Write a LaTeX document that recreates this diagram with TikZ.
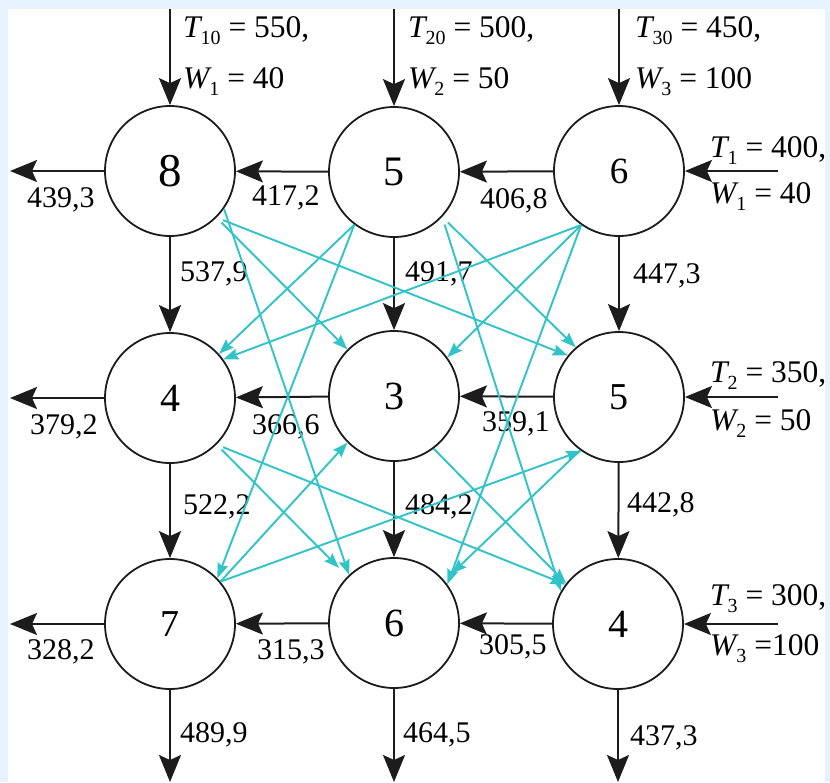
\documentclass[tikz,border=0pt]{standalone}
\usepackage{fontspec}
\setmainfont{Liberation Serif}
\usetikzlibrary{arrows.meta}
\definecolor{bgblue}{RGB}{230,243,253}
\definecolor{cyanline}{RGB}{48,196,200}
\definecolor{ink}{RGB}{28,28,28}
\newcommand{\sbs}[1]{\raisebox{-7pt}{\fontsize{20}{20}\selectfont #1}}
\begin{document}
\begin{tikzpicture}[x=1pt,y=-1pt,
  vert/.style={circle,draw=ink,line width=1.8pt,minimum size=130pt,inner sep=0pt,fill=white},
  flow/.style={draw=ink,line width=2pt,-{Stealth[length=27pt,width=22pt,inset=5pt]}},
  link/.style={draw=cyanline,line width=1.9pt,-{Stealth[length=15pt,width=11pt,inset=2pt]}},
  lab/.style={font=\fontsize{30}{30}\selectfont,inner sep=0pt,anchor=base west},
  inlab/.style={font=\fontsize{31.5}{31.5}\selectfont,inner sep=0pt,anchor=base west},
]
\useasboundingbox (0,0) rectangle (830,782);
\fill[bgblue] (0,0) rectangle (830,782);
\fill[white] (8,9) rectangle (825,782);

% nodes
\node[vert,font=\fontsize{47}{47}\selectfont] (A) at (170,171) {8};
\node[vert,font=\fontsize{42}{42}\selectfont] (B) at (394,172) {5};
\node[vert,font=\fontsize{37}{37}\selectfont] (C) at (619,171) {6};
\node[vert,font=\fontsize{40}{40}\selectfont] (D) at (170,398) {4};
\node[vert,font=\fontsize{40}{40}\selectfont] (E) at (394,396) {3};
\node[vert,font=\fontsize{38}{38}\selectfont] (F) at (619,397) {5};
\node[vert,font=\fontsize{38}{38}\selectfont] (G) at (170,624) {7};
\node[vert,font=\fontsize{40}{40}\selectfont] (H) at (394,623) {6};
\node[vert,font=\fontsize{40}{40}\selectfont] (I) at (618,624) {4};

% free ends
\coordinate (tA) at (170,9);
\coordinate (tB) at (394,9);
\coordinate (tC) at (619,9);
\coordinate (lA) at (10,171);
\coordinate (lD) at (10,398);
\coordinate (lG) at (10,624);
\coordinate (rC) at (778,171);
\coordinate (rF) at (778,397);
\coordinate (rI) at (778,624);
\coordinate (bG) at (170,782);
\coordinate (bH) at (394,782);
\coordinate (bI) at (618,782);

% black flows
\draw[flow] (tA) -- (A);
\draw[flow] (tB) -- (B);
\draw[flow] (tC) -- (C);
\draw[flow] (A) -- (lA);
\draw[flow] (B) -- (A);
\draw[flow] (C) -- (B);
\draw[flow] (rC) -- (C);
\draw[flow] (A) -- (D);
\draw[flow] (B) -- (E);
\draw[flow] (C) -- (F);
\draw[flow] (D) -- (lD);
\draw[flow] (E) -- (D);
\draw[flow] (F) -- (E);
\draw[flow] (rF) -- (F);
\draw[flow] (D) -- (G);
\draw[flow] (E) -- (H);
\draw[flow] (F) -- (I);
\draw[flow] (G) -- (lG);
\draw[flow] (H) -- (G);
\draw[flow] (I) -- (H);
\draw[flow] (rI) -- (I);
\draw[flow] (G) -- (bG);
\draw[flow] (H) -- (bH);
\draw[flow] (I) -- (bI);

% input labels
\node[inlab] (T10) at (183,37) {{\itshape T}\sbs{10} = 550,};
\node[inlab] (W1t) at (183,88) {{\itshape W}\sbs{1} = 40};
\node[inlab] (T20) at (408,37) {{\itshape T}\sbs{20} = 500,};
\node[inlab] (W2t) at (408,88) {{\itshape W}\sbs{2} = 50};
\node[inlab] (T30) at (635,37) {{\itshape T}\sbs{30} = 450,};
\node[inlab] (W3t) at (635,88) {{\itshape W}\sbs{3} = 100};
\node[inlab] (T1) at (710,157) {{\itshape T}\sbs{1} = 400,};
\node[inlab] (W1r) at (710,203) {{\itshape W}\sbs{1} = 40};
\node[inlab] (T2) at (710,382) {{\itshape T}\sbs{2} = 350,};
\node[inlab] (W2r) at (710,430) {{\itshape W}\sbs{2} = 50};
\node[inlab] (T3) at (710,605) {{\itshape T}\sbs{3} = 300,};
\node[inlab] (W3r) at (710,655) {{\itshape W}\sbs{3} =100};

% flow labels
\node[lab] (f1) at (27,207) {439,3};
\node[lab] (f2) at (252,205) {417,2};
\node[lab] (f3) at (480,208) {406,8};
\node[lab] (f4) at (180,281) {537,9};
\node[lab] (f5) at (405,281) {491,7};
\node[lab] (f6) at (633,283) {447,3};
\node[lab] (f7) at (30,434) {379,2};
\node[lab] (f8) at (252,434) {366,6};
\node[lab] (f9) at (482,431) {359,1};
\node[lab] (f10) at (183,514) {522,2};
\node[lab] (f11) at (405,514) {484,2};
\node[lab] (f12) at (627,512) {442,8};
\node[lab] (f13) at (27,659) {328,2};
\node[lab] (f14) at (257,659) {315,3};
\node[lab] (f15) at (479,654) {305,5};
\node[lab] (f16) at (180,742) {489,9};
\node[lab] (f17) at (403,742) {464,5};
\node[lab] (f18) at (630,745) {437,3};

% cyan links
\draw[link,shorten <=7pt] (A.-45) -- (E.135);
\draw[link,shorten <=7pt] (A.-45) -- (F.141);
\draw[link] (A.-35) -- (H.133);
\draw[link] (B.-127) -- (D.42);
\draw[link] (B.-127) -- (G.44);
\draw[link,shorten <=8pt] (B.-43) -- (F.131);
\draw[link,shorten <=8pt] (B.-43) -- (I.150);
\draw[link] (C.-125) -- (D.36);
\draw[link] (C.-125) -- (E.36);
\draw[link] (C.-125) -- (H.36);
\draw[link,shorten <=7pt,shorten >=12pt] (D.-45) -- (H.135);
\draw[link,shorten <=7pt] (D.-45) -- (I.143);
\draw[link] (E.-53) -- (I.142);
\draw[link,shorten >=10pt] (F.-126) -- (H.40);
\draw[link] (G.40) -- (E.-135);
\draw[link] (G.40) -- (F.-125);
\end{tikzpicture}
\end{document}
